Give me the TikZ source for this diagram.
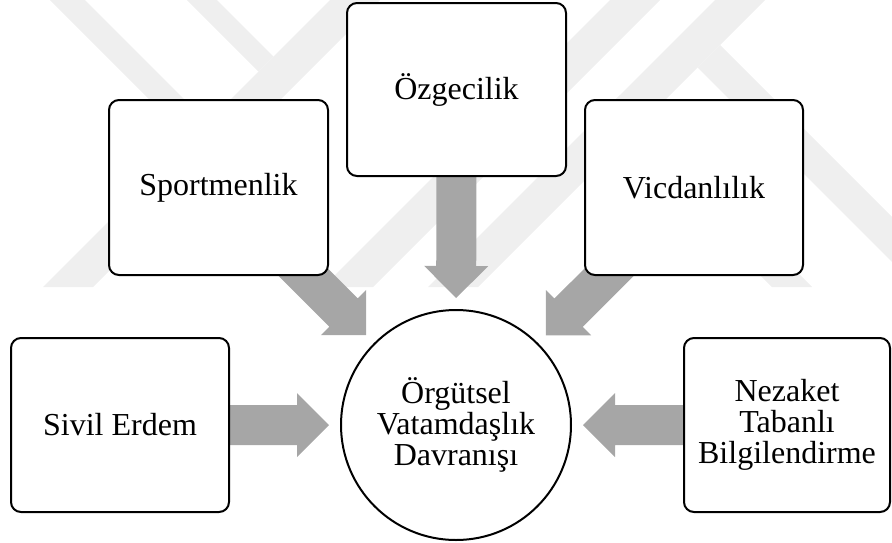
\documentclass[tikz,border=0pt]{standalone}
\usepackage{fontspec}
\setmainfont{Liberation Serif}
\usetikzlibrary{calc}
\definecolor{arrowfill}{HTML}{A6A6A6}
\definecolor{wmark}{HTML}{EFEFEF}
\pgfdeclarelayer{wm}
\pgfdeclarelayer{bg}
\pgfsetlayers{wm,bg,main}
% block arrow from start #1 to tip #2
\newcommand{\blockarrow}[2]{%
  \path ($(#2)!32pt!(#1)$) coordinate (hb);
  \fill[arrowfill] ($(#1)!20pt!90:(#2)$) -- ($(hb)!20pt!-90:(#1)$) -- ($(hb)!32pt!-90:(#1)$)
    -- (#2) -- ($(hb)!32pt!90:(#1)$) -- ($(hb)!20pt!90:(#1)$) -- ($(#1)!20pt!-90:(#2)$) -- cycle;
}
\begin{document}
\begin{tikzpicture}[x=1pt,y=-1pt,
  txt/.style={align=center, font=\fontsize{32}{31}\selectfont},
  box/.style={txt, draw, line width=2pt, rounded corners=10pt, fill=white, inner sep=0pt, outer sep=0pt},
  hub/.style={txt, draw, circle, line width=2pt, fill=white, minimum size=230pt, inner sep=0pt, outer sep=0pt},
  band/.style={fill=wmark}]
\useasboundingbox (0,0) rectangle (892,542);
\node[box, minimum width=219pt, minimum height=173pt] (ozg) at (456.5,89.5) {Özgecilik};
\node[box, minimum width=219pt, minimum height=175pt] (sport) at (218.5,187.5) {Sportmenlik};
\node[box, minimum width=218pt, minimum height=175pt] (vicd) at (694,187.5) {Vicdanlılık};
\node[box, minimum width=218pt, minimum height=174pt] (sivil) at (120,425) {Sivil Erdem};
\node[box, minimum width=206pt, minimum height=174pt] (nez) at (787,425) {Nezaket\\Tabanlı\\Bilgilendirme};
\node[hub] (ovd) at (456,425) {Örgütsel\\Vatamdaşlık\\Davranışı};
\begin{pgfonlayer}{bg}
\foreach \s in {ozg,sport,vicd,sivil,nez}{
  \coordinate (t-\s) at ($(ovd.center)!127pt!(\s.center)$);
  \blockarrow{\s.center}{t-\s}
}
\end{pgfonlayer}
\begin{pgfonlayer}{wm}
\begin{scope}
\clip (0,0) rectangle (892,287);
\fill[band] (43,287) -- (93,287) -- (380,0) -- (330,0) -- cycle;
\fill[band] (187,0) -- (217,0) -- (273.5,56.5) -- (258.5,71.5) -- cycle;
\fill[band] (50,0) -- (85,0) -- (207.5,122.5) -- (190,140) -- cycle;
\fill[band] (323,287) -- (373,287) -- (660,0) -- (610,0) -- cycle;
\fill[band] (428,287) -- (478,287) -- (765,0) -- (715,0) -- cycle;
\fill[band] (697.5,67.5) -- (720,45) -- (962,287) -- (917,287) -- cycle;
\fill[band] (600,115) -- (620,95) -- (812,287) -- (772,287) -- cycle;
\end{scope}
\end{pgfonlayer}
\end{tikzpicture}
\end{document}
